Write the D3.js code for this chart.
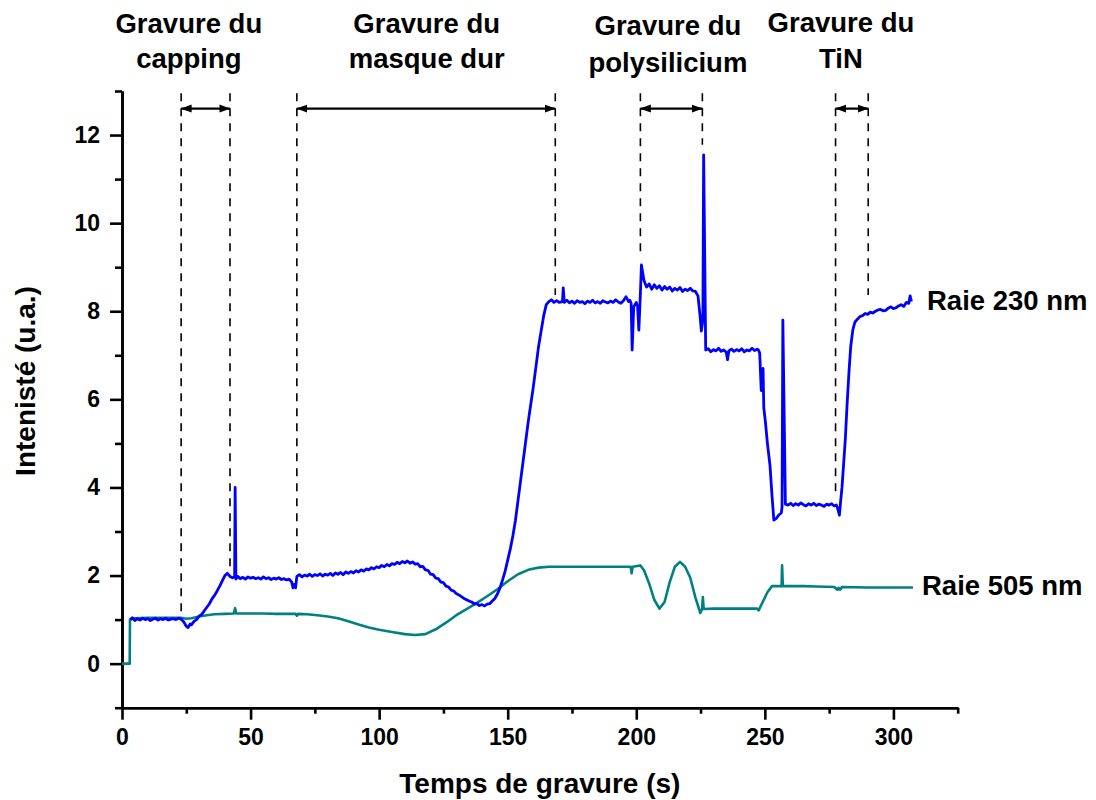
<!DOCTYPE html>
<html>
<head>
<meta charset="utf-8">
<script src="https://cdn.jsdelivr.net/npm/d3@7"></script>
<style>
  html, body { margin: 0; padding: 0; background: #fff; }
  svg { display: block; }
  text { font-family: "Liberation Sans", Arial, sans-serif; font-weight: bold; fill: #000; }
</style>
</head>
<body>
<svg id="chart" width="1096" height="800"></svg>
<script>
// ---------------- DATA ----------------
// Raie 230 nm : time (s) and intensity (u.a.)
const time230 = [3.2,4,5,6,7,8,9,10,11,12,13,14,15,16,17,18,19,20,21,22,23,24,25,25.7,26.5,27,28,29,30,31,32,33,34,35,36,37,38,39,40,41,42,43,43.8,44,44.3,45,46,47,48,49,50,51,52,53,54,55,56,57,58,59,60,61,62,63,64,65,66,66.5,67,67.5,68,69,70,71,72,73,74,75,76,77,78,79,80,81,82,83,84,85,86,87,88,89,90,91,92,93,94,95,96,97,98,99,100,101,102,103,104,105,106,107,108,109,110,111,112,113,114,115,116,117,118,119,120,121,122,123,124,125,126,127,128,129,130,131,132,133,134,135,136,137,138,139,140,141,142,143,144,145,146,147,148,149,150,151,152,153,154,155,156,157,158,159,160,161,162,163,164,165,166,167,168,169,170,171.3,171.6,172,173,174,175,176,177,178,179,180,181,182,183,184,185,186,187,188,189,190,191,192,193,194,195,196,197,197.5,198,198.4,199,200,200.5,201,201.6,202,203,204,205,206,207,208,209,210,211,212,213,214,215,216,217,218,219,220,221,222,223,224,224.8,225.3,225.9,226.2,227,228,229,230,231,232,233,234,235,235.5,236,237,238,239,240,241,242,243,244,245,246,247,247.5,248,248.6,249.3,249.6,250.2,251,252,252.8,253.5,254.5,255.5,256.4,256.7,257,258,259,260,261,262,263,264,265,266,267,268,269,270,271,272,273,274,275,276,277,277.8,278.2,279,279.5,280,280.6,281.3,282,282.7,283.4,284.2,285,286,287,288,289,290,291,292,293,294,295,296,297,298,299,300,301,302,303,304,305,306,306.5,307];
const int230 = [1.0,1.04,0.98,1.02,0.99,1.03,1.0,1.02,0.98,1.01,1.03,0.99,1.02,1.0,1.03,0.99,1.01,1.02,1.0,1.03,1.01,0.95,0.85,0.82,0.9,0.88,0.96,1.0,1.08,1.12,1.2,1.28,1.36,1.47,1.55,1.65,1.76,1.88,2.0,2.05,1.98,1.95,1.97,4.0,1.92,1.98,1.93,1.96,1.92,1.97,1.94,1.96,1.93,1.95,1.92,1.97,1.93,1.95,1.91,1.94,1.92,1.95,1.91,1.93,1.9,1.92,1.85,1.72,1.8,1.72,1.98,2.02,1.97,2.01,1.99,2.03,1.98,2.02,2.0,2.04,1.99,2.03,2.01,2.05,2.0,2.06,2.03,2.07,2.02,2.08,2.05,2.09,2.06,2.11,2.08,2.13,2.1,2.15,2.13,2.18,2.15,2.2,2.18,2.23,2.2,2.25,2.22,2.27,2.25,2.3,2.27,2.32,2.29,2.33,2.28,2.31,2.26,2.27,2.2,2.21,2.13,2.12,2.03,2.02,1.94,1.93,1.85,1.84,1.76,1.74,1.67,1.65,1.59,1.56,1.52,1.48,1.45,1.42,1.4,1.36,1.36,1.32,1.34,1.31,1.35,1.36,1.42,1.48,1.58,1.72,1.9,2.1,2.35,2.6,2.9,3.25,3.7,4.15,4.6,5.05,5.5,5.9,6.3,6.75,7.2,7.55,7.9,8.15,8.22,8.26,8.2,8.24,8.2,8.22,8.53,8.2,8.25,8.19,8.23,8.18,8.24,8.2,8.22,8.17,8.23,8.2,8.25,8.19,8.22,8.18,8.24,8.21,8.19,8.23,8.2,8.26,8.21,8.18,8.24,8.33,8.22,8.25,8.18,7.12,8.1,8.2,8.12,7.57,8.4,9.05,8.7,8.55,8.62,8.5,8.6,8.52,8.58,8.48,8.56,8.5,8.55,8.46,8.52,8.48,8.54,8.45,8.5,8.47,8.52,8.46,8.45,8.35,7.9,7.55,7.8,11.55,7.12,7.15,7.08,7.13,7.1,7.16,7.09,7.12,7.07,6.9,7.1,7.14,7.09,7.13,7.1,7.15,7.08,7.12,7.1,7.16,7.11,7.14,7.12,7.05,6.2,6.7,5.8,5.5,5.0,4.5,3.8,3.26,3.3,3.38,3.42,3.56,7.8,3.62,3.6,3.64,3.59,3.63,3.6,3.65,3.61,3.58,3.63,3.6,3.64,3.59,3.62,3.6,3.57,3.62,3.6,3.63,3.58,3.6,3.55,3.37,3.7,4.0,4.5,5.1,5.9,6.6,7.2,7.57,7.75,7.82,7.88,7.9,7.95,7.93,7.98,7.96,8.0,8.03,8.04,8.01,8.02,8.07,8.1,8.06,8.08,8.12,8.15,8.11,8.2,8.18,8.35,8.22,8.3];

// Raie 505 nm : time (s) and intensity (u.a.)
const time505 = [0,3,3.1,5,10,15,20,23,25,27,30,33,36,40,43.5,44,44.4,50,55,60,65,67.5,68,68.5,72,76,80,84,88,92,96,100,105,110,114,118,122,126,130,134,138,142,146,150,154,158,162,166,170,180,190,196,197.8,198.2,198.6,201.6,203,205,207,209,211,213,215,217,219,221,223,224.9,225.6,225.9,226.2,230,240,247,247.6,249.5,251,252.8,256.5,256.7,257,265,270,277,278.2,278.7,279.3,280,290,300,307.6];
const int505 = [0,0,1.0,1.03,1.04,1.04,1.04,1.04,1.02,1.03,1.07,1.1,1.12,1.13,1.14,1.26,1.14,1.14,1.14,1.13,1.13,1.13,1.09,1.13,1.12,1.1,1.07,1.03,0.96,0.89,0.82,0.77,0.72,0.67,0.65,0.67,0.78,0.93,1.1,1.24,1.38,1.53,1.69,1.87,2.03,2.13,2.18,2.2,2.2,2.2,2.2,2.2,2.2,2.05,2.2,2.23,2.12,1.82,1.45,1.25,1.4,1.85,2.2,2.31,2.2,1.95,1.5,1.15,1.24,1.51,1.24,1.25,1.25,1.25,1.21,1.44,1.62,1.76,1.76,2.23,1.76,1.76,1.75,1.74,1.68,1.72,1.68,1.74,1.73,1.73,1.73];

// Axis ticks
const xMajorTicks = [0, 50, 100, 150, 200, 250, 300];
const xMinorTicks = [25, 75, 125, 175, 225, 275, 325];
const yMajorTicks = [0, 2, 4, 6, 8, 10, 12];
const yMinorTicks = [-1, 1, 3, 5, 7, 9, 11, 13];

// Etching phases (s)
const phaseLine1 = ["Gravure du", "Gravure du", "Gravure du", "Gravure du"];
const phaseLine2 = ["capping", "masque dur", "polysilicium", "TiN"];
const phaseStart = [23, 68, 201.6, 277.5];
const phaseEnd = [42, 168.5, 225.7, 290.2];
const phaseStartBottom = [1.1, 2.28, 9.24, 3.79];
const phaseEndBottom = [2.05, 8.37, 11.78, 8.37];
const phaseLabelCenter = [26, 118.5, 212.3, 279.6];

const seriesNames = ["Raie 230 nm", "Raie 505 nm"];

// ---------------- LAYOUT ----------------
const svg = d3.select("#chart");
const x = d3.scaleLinear().domain([0, 325]).range([122, 957.7]);
const y = d3.scaleLinear().domain([-1, 13]).range([707.7, 91]);
const AX_W = 2.6;

// axes
function styleAxis(g) {
  g.selectAll("path.domain").attr("stroke", "#000").attr("stroke-width", AX_W);
  g.selectAll(".tick line").attr("stroke", "#000").attr("stroke-width", AX_W);
  g.selectAll(".tick text").style("font-size", "23px").style("font-family", "'Liberation Sans', Arial, sans-serif").style("font-weight", "bold").attr("fill", "#000");
}
const xAxisMinor = svg.append("g").attr("transform", `translate(0,${y(-1)})`)
  .call(d3.axisBottom(x).tickValues(xMinorTicks).tickSize(6).tickSizeOuter(0).tickFormat(""));
xAxisMinor.call(styleAxis);
const xAxis = svg.append("g").attr("transform", `translate(0,${y(-1)})`)
  .call(d3.axisBottom(x).tickValues(xMajorTicks).tickSize(12).tickSizeOuter(0).tickPadding(9).tickFormat(d3.format("d")));
xAxis.call(styleAxis);

const yAxisMinor = svg.append("g").attr("transform", `translate(${x(0)},0)`)
  .call(d3.axisLeft(y).tickValues(yMinorTicks).tickSize(7).tickSizeOuter(0).tickFormat(""));
yAxisMinor.call(styleAxis);
const yAxis = svg.append("g").attr("transform", `translate(${x(0)},0)`)
  .call(d3.axisLeft(y).tickValues(yMajorTicks).tickSize(12).tickSizeOuter(0).tickPadding(10).tickFormat(d3.format("d")));
yAxis.call(styleAxis);

// axis titles
svg.append("text").attr("x", (x(0) + x(325)) / 2).attr("y", 793)
  .attr("text-anchor", "middle").style("font-size", "28px").text("Temps de gravure (s)");
svg.append("text").attr("transform", `translate(35,381) rotate(-90)`)
  .attr("text-anchor", "middle").style("font-size", "28px").text("Intenisté (u.a.)");

// phase dashed lines
const dashG = svg.append("g");
const dashTop = 12.95;
phaseStart.forEach((s, i) => {
  [[s, phaseStartBottom[i]], [phaseEnd[i], phaseEndBottom[i]]].forEach(([t, b]) => {
    dashG.append("line")
      .attr("x1", x(t)).attr("x2", x(t))
      .attr("y1", y(dashTop)).attr("y2", y(b))
      .attr("stroke", "#000").attr("stroke-width", 1.6)
      .attr("stroke-dasharray", "8,7");
  });
});

// arrow markers
const defs = svg.append("defs");
defs.append("marker").attr("id", "arr").attr("viewBox", "0 -5 11 10")
  .attr("refX", 10.5).attr("refY", 0).attr("markerWidth", 11).attr("markerHeight", 10)
  .attr("markerUnits", "userSpaceOnUse").attr("orient", "auto-start-reverse")
  .append("path").attr("d", "M0,-4L11,0L0,4Z").attr("fill", "#000");

const arrowY = 12.6;
phaseStart.forEach((s, i) => {
  svg.append("line")
    .attr("x1", x(s)).attr("x2", x(phaseEnd[i]))
    .attr("y1", y(arrowY)).attr("y2", y(arrowY))
    .attr("stroke", "#000").attr("stroke-width", 2.2)
    .attr("marker-start", "url(#arr)").attr("marker-end", "url(#arr)");
});

// phase labels
const line1Base = [33.3, 33.3, 35, 32];
const line2Base = [68.3, 68.3, 71.7, 68.3];
phaseLine1.forEach((t, i) => {
  svg.append("text").attr("x", x(phaseLabelCenter[i])).attr("y", line1Base[i])
    .attr("text-anchor", "middle").style("font-size", "27.5px").text(t);
  svg.append("text").attr("x", x(phaseLabelCenter[i])).attr("y", line2Base[i])
    .attr("text-anchor", "middle").style("font-size", "27.5px").text(phaseLine2[i]);
});

// series
const line = d3.line().x(d => x(d[0])).y(d => y(d[1]));
const d505 = time505.map((t, i) => [t, int505[i]]);
const d230 = time230.map((t, i) => [t, int230[i]]);

svg.append("path").datum(d505).attr("d", line)
  .attr("fill", "none").attr("stroke", "#008080").attr("stroke-width", 2.6)
  .attr("stroke-linejoin", "round");
svg.append("path").datum(d230).attr("d", line)
  .attr("fill", "none").attr("stroke", "#0000ff").attr("stroke-width", 2.8)
  .attr("stroke-linejoin", "round");

// series labels
svg.append("text").attr("x", 927).attr("y", 310).style("font-size", "27.5px").text(seriesNames[0]);
svg.append("text").attr("x", 922).attr("y", 595).style("font-size", "27.5px").text(seriesNames[1]);
</script>
</body>
</html>
